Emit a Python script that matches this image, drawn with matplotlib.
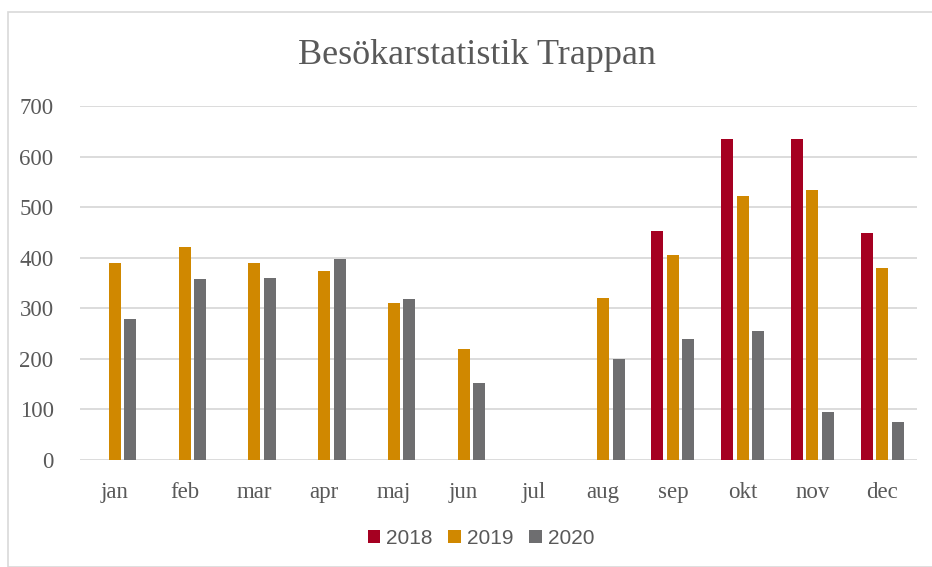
import matplotlib.pyplot as plt
import numpy as np
from matplotlib.patches import Rectangle

months = ["jan", "feb", "mar", "apr", "maj", "jun", "jul", "aug", "sep", "okt", "nov", "dec"]
y2018 = [0, 0, 0, 0, 0, 0, 0, 0, 453, 634, 634, 449]
y2019 = [390, 421, 390, 374, 311, 219, 0, 320, 405, 523, 534, 380]
y2020 = [278, 357, 360, 397, 318, 152, 0, 199, 240, 256, 94, 75]

series = [("2018", y2018, "#A50021"), ("2019", y2019, "#D08800"), ("2020", y2020, "#6E6E70")]

fig = plt.figure(figsize=(9.32, 5.67), dpi=100)
ax = fig.add_axes([80 / 932, 1 - 460 / 567, 837 / 932, 354 / 567])

x = np.arange(len(months))
w = 0.172
step = 0.222
for i, (name, vals, col) in enumerate(series):
    ax.bar(x + (i - 1) * step, vals, width=w, color=col, label=name, zorder=3)

ax.set_xlim(-0.5, len(months) - 0.5)
ax.set_ylim(0, 700)
ax.set_yticks(range(0, 701, 100))
ax.set_xticks(x)
ax.set_xticklabels(months)
ax.grid(axis="y", color="#d9d9d9", linewidth=1.3, zorder=0)
for s in ax.spines.values():
    s.set_visible(False)
ax.tick_params(length=0, labelsize=16.5, labelcolor="#595959", pad=16)
ax.tick_params(axis="y", pad=19)
for lab in ax.get_xticklabels() + ax.get_yticklabels():
    lab.set_family("Liberation Serif")

fig.text(477 / 932, 1 - 55 / 567, "Besökarstatistik Trappan", ha="center", va="center",
         fontsize=26, color="#595959", family="Liberation Serif")

leg = fig.legend(loc="center", bbox_to_anchor=(481 / 932, 1 - 538 / 567), ncol=3, frameon=False,
                 handlelength=0.6, handleheight=0.6, handletextpad=0.3, columnspacing=0.75,
                 prop={"family": "Liberation Sans", "size": 15})
for t in leg.get_texts():
    t.set_color("#595959")

fig.patches.append(Rectangle((8 / 932, 0), 1, 1 - 12 / 567, transform=fig.transFigure,
                             fill=False, edgecolor="#d9d9d9", linewidth=1.2))

fig.savefig("out.png", dpi=100)
